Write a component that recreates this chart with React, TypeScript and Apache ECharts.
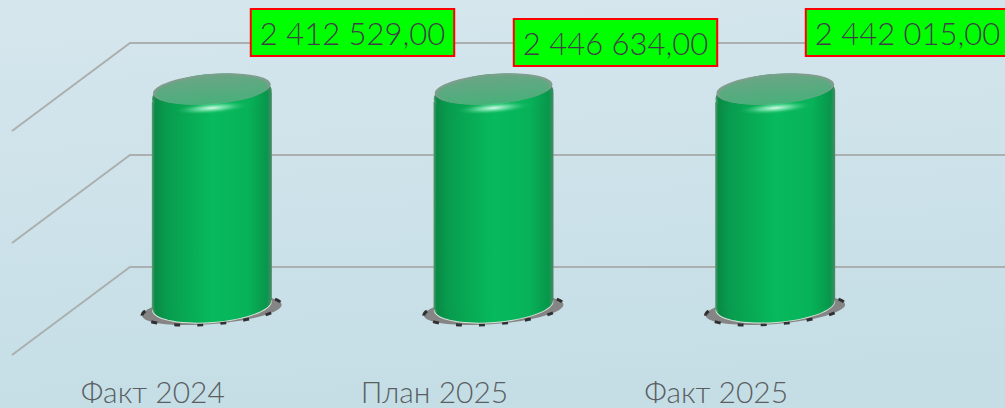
import React, { useEffect, useRef } from "react";
import * as echarts from "echarts";

const categories = ["Факт 2024", "План 2025", "Факт 2025"];
const values = [2412529, 2446634, 2442015];
const gridValues = [0, 1000000, 2000000];
const axisMax = 2000000;

const depthX = 118;
const depthY = -88;
const labelBoxes = [
  { x: 352.5, y: 32.5 },
  { x: 615.5, y: 42.5 },
  { x: 907.5, y: 32.5 },
];
const fontFamily = "Lato, 'Open Sans', sans-serif";

const fmt = (v: number) =>
  v.toString().replace(/\B(?=(\d{3})+$)/g, " ") + ",00";

const bodyFill = {
  type: "linear", x: 0, y: 0, x2: 1, y2: 0,
  colorStops: [
    { offset: 0, color: "#5f9a78" },
    { offset: 0.025, color: "#0a8a45" },
    { offset: 0.12, color: "#089c4e" },
    { offset: 0.5, color: "#07ba5c" },
    { offset: 0.8, color: "#07b259" },
    { offset: 0.96, color: "#08964a" },
    { offset: 1, color: "#4a8a68" },
  ],
};
const capFill = {
  type: "linear", x: 0, y: 0, x2: 0, y2: 1,
  colorStops: [
    { offset: 0, color: "#6aa585" },
    { offset: 1, color: "#48b07a" },
  ],
};
const glow = {
  type: "radial", x: 0.5, y: 0.5, r: 0.5,
  colorStops: [
    { offset: 0, color: "rgba(225,255,240,0.95)" },
    { offset: 0.45, color: "rgba(150,240,195,0.55)" },
    { offset: 1, color: "rgba(10,180,90,0)" },
  ],
};

function App() {
  const ref = useRef<HTMLDivElement>(null);
  useEffect(() => {
    document.body.style.margin = "0";
    const chart = echarts.init(ref.current!, undefined, { renderer: "svg" });
    chart.setOption({
      animation: false,
      backgroundColor: {
        type: "linear", x: 0, y: 0, x2: 0.15, y2: 1,
        colorStops: [
          { offset: 0, color: "#d6e6ed" },
          { offset: 1, color: "#c5dee6" },
        ],
      },
      grid: { left: 12, top: 131, width: 845, height: 224 },
      xAxis: {
        type: "category",
        data: categories,
        axisLine: { show: false },
        axisTick: { show: false },
        axisLabel: { color: "#595e62", fontSize: 30, fontWeight: 300, fontFamily, margin: 21 },
      },
      yAxis: {
        type: "value", min: 0, max: axisMax, interval: 1000000,
        axisLabel: { show: false }, axisLine: { show: false }, axisTick: { show: false }, splitLine: { show: false },
      },
      series: [
        {
          type: "custom",
          clip: false,
          silent: true,
          data: gridValues,
          encode: { y: 0 },
          z: 1,
          renderItem: (_p: any, api: any) => {
            const [, y] = api.coord([0, api.value(0)]);
            const left = 12;
            return {
              type: "polyline",
              shape: { points: [[left, y], [left + depthX, y + depthY], [1010, y + depthY]] },
              style: { fill: "none", stroke: "#abafb0", lineWidth: 2 },
            };
          },
        },
        {
          type: "custom",
          clip: false,
          silent: true,
          data: values.map((v, i) => [i, v]),
          encode: { x: 0, y: 1 },
          z: 2,
          renderItem: (_p: any, api: any) => {
            const i = api.value(0);
            const v = Math.min(api.value(1), axisMax);
            const [cx0, topY0] = api.coord([i, v]);
            const [, botY0] = api.coord([i, 0]);
            const cx = cx0 + depthX / 2;
            const top = topY0 + depthY / 2 + 2;
            const bot = botY0 + depthY / 2 - 6;
            const hw = 60;
            const ry = 17;
            const rot = 0.08;
            const sk = hw * Math.sin(rot);
            const ell = (ecx: number, ecy: number, rx: number, ery: number, style: any) => ({
              type: "ellipse",
              shape: { cx: ecx, cy: ecy, rx, ry: ery },
              rotation: rot, originX: ecx, originY: ecy,
              style,
            });
            return {
              type: "group",
              children: [
                ell(cx, bot + 5, hw + 10, 14, { fill: "#858586", stroke: "#303032", lineWidth: 3, lineDash: [6, 17] }),
                ell(cx, bot + 1, hw, ry, { fill: "#d5e3d9" }),
                ell(cx, bot, hw - 0.5, ry, { fill: bodyFill }),
                {
                  type: "polygon",
                  shape: { points: [[cx - hw, top + 8 + sk], [cx + hw, top + 8 - sk], [cx + hw, bot - sk], [cx - hw, bot + sk]] },
                  style: { fill: bodyFill },
                },
                ell(cx, top + 6, hw, 21, { fill: bodyFill }),
                ell(cx, top, hw - 1, 15, { fill: "#7d9e8c" }),
                ell(cx, top + 1, hw - 4, 14, { fill: capFill }),
                ell(cx, top + 19, 38, 6, { fill: glow }),
              ],
            };
          },
        },
        {
          type: "custom",
          clip: false,
          silent: true,
          data: values.map((v, i) => [i, v]),
          encode: { x: 0, y: 1 },
          z: 3,
          renderItem: (_p: any, api: any) => {
            const i = api.value(0);
            return {
              type: "text",
              x: labelBoxes[i].x,
              y: labelBoxes[i].y,
              style: {
                text: fmt(values[i]),
                fill: "#3f3f48",
                fontSize: 31,
                fontWeight: 300,
                fontFamily,
                align: "center",
                verticalAlign: "middle",
                backgroundColor: "#00ff00",
                borderColor: "#ff0000",
                borderWidth: 2,
                padding: [7, 8, 7, 8],
              },
            };
          },
        },
      ],
    });
    return () => chart.dispose();
  }, []);
  return <div ref={ref} style={{ width: 1005, height: 408 }} />;
}

export default App;
